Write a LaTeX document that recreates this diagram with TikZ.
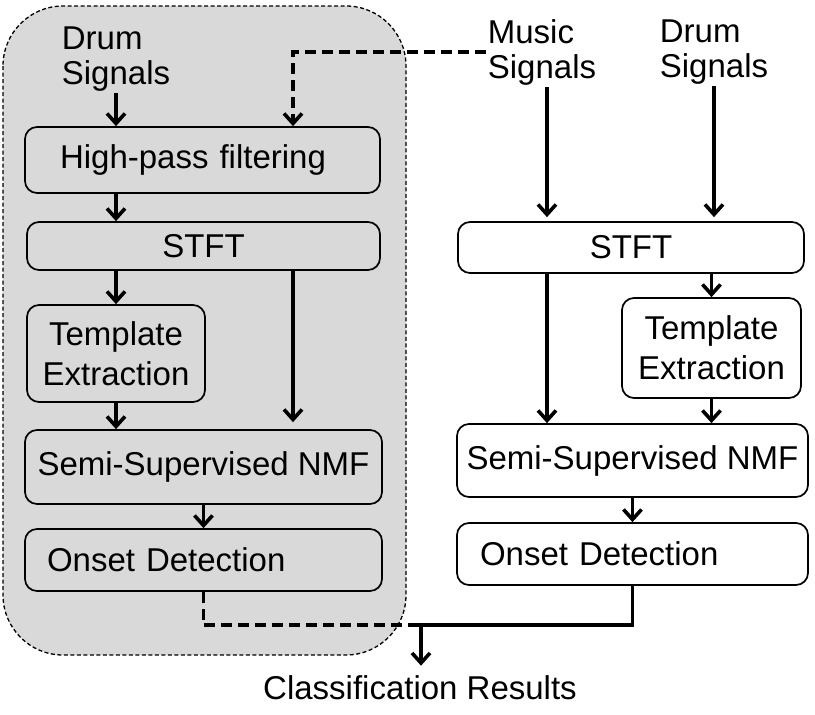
\documentclass[tikz,border=0pt]{standalone}
\usepackage{fontspec}
\setmainfont{Liberation Sans}
\usepackage{tikz}
\usetikzlibrary{arrows.meta, positioning}
\definecolor{boxgray}{RGB}{217,217,217}

\begin{document}
\begin{tikzpicture}[x=1pt, y=-1pt,
  every node/.style={font=\fontsize{33}{35}\selectfont, inner sep=2pt},
  stage/.style={draw, line width=1.7pt, rounded corners=12pt, inner sep=0pt, align=center},
  grouped/.style={stage, fill=boxgray},
  plain/.style={stage, fill=white},
  arr/.style={line width=3.8pt, -{Straight Barb[length=10pt, width=18pt, line width=3.6pt]}},
  darr/.style={arr, dash pattern=on 11pt off 6pt},
  twoline/.style={font=\fontsize{33}{40}\selectfont}]
\useasboundingbox (0,0) rectangle (815,715);
% dashed group of the left branch
\draw[fill=boxgray, line width=1.3pt, dash pattern=on 4pt off 2.5pt, rounded corners=60pt] (3,6) rectangle (406,655);

% inputs and output
\node[align=left] (drumL) at (116,59) {Drum\\Signals};
\node[align=left] (music) at (542,52) {Music\\Signals};
\node[align=left] (drumR) at (714,52) {Drum\\Signals};
\node (result) at (420,688) {Classification Results};

% left branch
\node[grouped, minimum height=66pt, text width=285pt, inner xsep=35pt, align=left] (hpf) at (202.5,160) {High-pass filtering};
\node[grouped, minimum width=353pt, minimum height=48pt] (stftL) at (203.5,246) {STFT};
\node[grouped, twoline, minimum width=178pt, minimum height=97pt] (tmplL) at (116,353.5) {Template\\Extraction};
\node[grouped, minimum width=357pt, minimum height=74pt] (nmfL) at (203.5,467) {Semi-Supervised NMF};
\node[grouped, minimum height=62pt, text width=313pt, inner xsep=22pt, align=left] (onsetL) at (203.5,560) {Onset Detection};

% right branch
\node[plain, minimum width=346pt, minimum height=51pt] (stftR) at (631,247.5) {STFT};
\node[plain, twoline, minimum width=179pt, minimum height=100pt] (tmplR) at (711.5,348) {Template\\Extraction};
\node[plain, minimum width=351pt, minimum height=73pt] (nmfR) at (632.5,460.5) {Semi-Supervised NMF};
\node[plain, minimum height=62pt, text width=305pt, inner xsep=23pt, align=left] (onsetR) at (632.5,554) {Onset Detection};

\coordinate (mx) at ([xshift=5pt]music.south);
\coordinate (merge) at (421,625);

% connectors
\draw[arr] (drumL.south) -- (drumL.south |- hpf.north);
\draw[darr] (music.west) -| ([xshift=90.5pt]hpf.north);
\draw[arr] (hpf.south -| drumL) -- (stftL.north -| drumL);
\draw[arr] (stftL.south -| tmplL) -- (tmplL.north);
\draw[arr, shorten >=7pt] ([xshift=89.5pt]stftL.south) -- ([xshift=89.5pt]stftL.south |- nmfL.north);
\draw[arr] (tmplL.south) -- (tmplL.south |- nmfL.north);
\draw[arr] (nmfL.south) -- (onsetL.north);
\draw[line width=3.8pt, dash pattern=on 11pt off 6pt] (onsetL.south) |- (merge);

\draw[arr, shorten >=4pt] (mx) -- (mx |- stftR.north);
\draw[arr, shorten >=4pt] (drumR.south) -- (drumR.south |- stftR.north);
\draw[arr] (stftR.south -| mx) -- (nmfR.north -| mx);
\draw[arr] (stftR.south -| tmplR) -- (tmplR.north);
\draw[arr] (tmplR.south) -- (tmplR.south |- nmfR.north);
\draw[arr] (nmfR.south) -- (onsetR.north);
\draw[arr, shorten >=8pt] (onsetR.south) |- (merge) -- (result.north -| merge);
\end{tikzpicture}
\end{document}
